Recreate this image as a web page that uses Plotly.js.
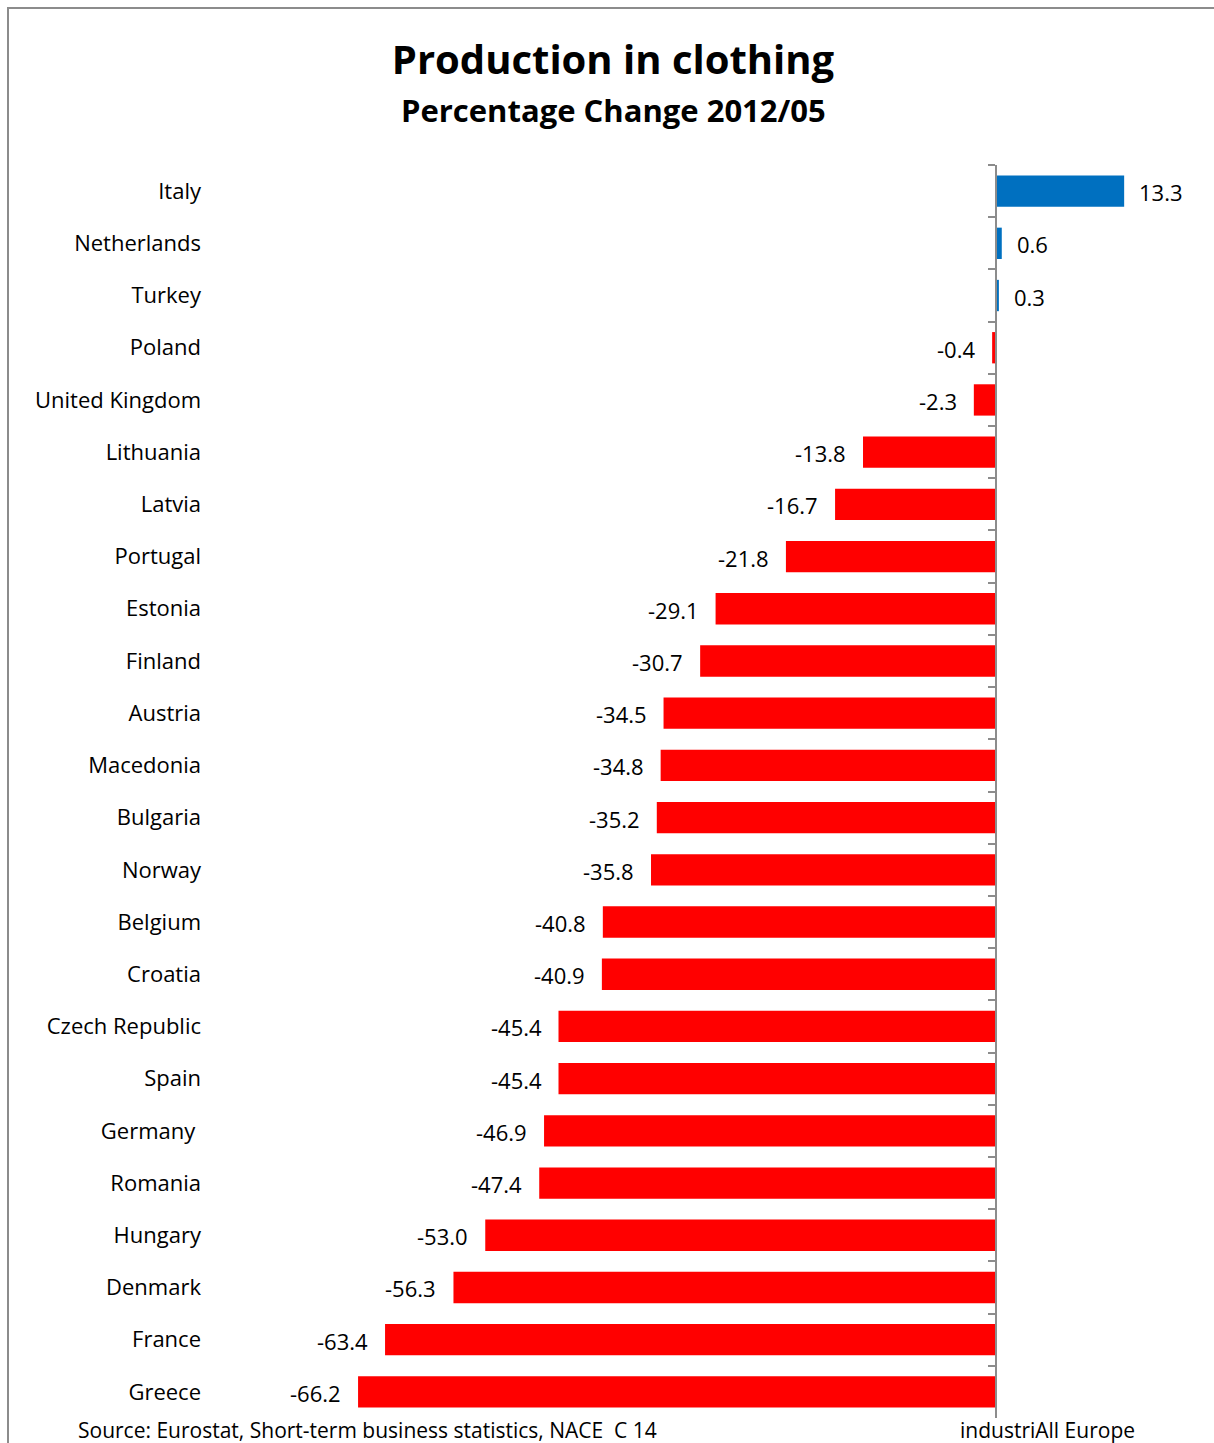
<!DOCTYPE html>
<html><head><meta charset="utf-8">
<script src="https://cdn.plot.ly/plotly-3.0.1.min.js"></script>
<style>
html,body{margin:0;padding:0;background:#fff;}
#wrap{position:relative;width:1214px;height:1443px;overflow:hidden;}
#chart{position:absolute;left:0;top:0;width:1214px;height:1443px;}
#frame{position:absolute;left:7px;top:7px;width:1220px;height:1450px;border-top:2px solid #8c8c8c;border-left:2px solid #8c8c8c;pointer-events:none;}
</style></head>
<body><div id="wrap"><div id="chart"></div><div id="frame"></div></div>
<script>
const countries = ["Italy","Netherlands","Turkey","Poland","United Kingdom","Lithuania","Latvia","Portugal","Estonia","Finland","Austria","Macedonia","Bulgaria","Norway","Belgium","Croatia","Czech Republic","Spain","Germany ","Romania","Hungary","Denmark","France","Greece"];
const changes = [13.3,0.6,0.3,-0.4,-2.3,-13.8,-16.7,-21.8,-29.1,-30.7,-34.5,-34.8,-35.2,-35.8,-40.8,-40.9,-45.4,-45.4,-46.9,-47.4,-53.0,-56.3,-63.4,-66.2];
const titleText = "Production in clothing";
const subtitleText = "Percentage Change 2012/05";
const sourceText = "Source: Eurostat, Short-term business statistics, NACE  C 14";
const creditText = "industriAll Europe";

const FONT = "'Open Sans', 'Noto Sans', sans-serif";
const W = 1214, H = 1443, ML = 206, MR = 14, MT = 165, MB = 25;
const PW = W - ML - MR, PH = H - MT - MB;
const xRange = [-81.98, 21.17];
const zeroFrac = (0 - xRange[0]) / (xRange[1] - xRange[0]);

const barColors = changes.map(v => v >= 0 ? "#0070C0" : "#FF0000");

const traces = [{
  type: "bar", orientation: "h",
  x: changes, y: countries,
  marker: {color: barColors, line: {width: 0}},
  hoverinfo: "x+y",
  xaxis: "x", yaxis: "y"
}];

const valueAnn = changes.map((v, i) => ({
  x: v, y: countries[i], xref: "x", yref: "y",
  text: v.toFixed(1), showarrow: false,
  xanchor: v >= 0 ? "left" : "right",
  xshift: v >= 0 ? 13 : -15, yshift: -1,
  font: {family: FONT, size: 22, color: "#000"}
}));

const layout = {
  width: W, height: H,
  margin: {l: ML, r: MR, t: MT, b: MB, pad: 0},
  paper_bgcolor: "rgba(0,0,0,0)", plot_bgcolor: "rgba(0,0,0,0)",
  font: {family: FONT, color: "#000"},
  showlegend: false,
  bargap: 0.4,
  title: {
    text: "<b>" + titleText + "</b>",
    font: {family: FONT, size: 40, color: "#000"},
    x: 613 / W, xanchor: "center", xref: "container",
    y: 1 - 60 / H, yanchor: "middle", yref: "container"
  },
  xaxis: {
    range: xRange, showgrid: false, zeroline: false, showline: false,
    showticklabels: false, ticks: "", fixedrange: true
  },
  yaxis: {
    type: "category", categoryorder: "array", categoryarray: countries,
    range: [countries.length - 0.5, -0.5],
    showgrid: false, zeroline: false, showline: false, ticks: "",
    tickfont: {family: FONT, size: 22, color: "#000"},
    ticklabelstandoff: 4
  },
  yaxis2: {
    type: "category", categoryorder: "array", categoryarray: countries,
    range: [countries.length - 0.5, -0.5],
    overlaying: "y", anchor: "free", position: zeroFrac, side: "left",
    showline: true, linecolor: "#8c8c8c", linewidth: 2,
    ticks: "outside", ticklen: 7, tickwidth: 2, tickcolor: "#8c8c8c",
    tickson: "boundaries", showticklabels: false, showgrid: false, zeroline: false
  },
  annotations: valueAnn.concat([
    {xref: "paper", yref: "paper", x: (613 - ML) / PW, y: 1 + (MT - 110) / PH,
     xanchor: "center", yanchor: "middle", showarrow: false, text: "<b>" + subtitleText + "</b>",
     font: {family: FONT, size: 31, color: "#000"}},
    {xref: "paper", yref: "paper", x: (76 - ML) / PW, y: -(1430 - (H - MB)) / PH,
     xanchor: "left", yanchor: "middle", showarrow: false, text: sourceText,
     font: {family: FONT, size: 21, color: "#000"}},
    {xref: "paper", yref: "paper", x: (958 - ML) / PW, y: -(1430 - (H - MB)) / PH,
     xanchor: "left", yanchor: "middle", showarrow: false, text: creditText,
     font: {family: FONT, size: 21, color: "#000"}}
  ])
};

traces.push({type: "scatter", mode: "markers", x: changes.map(() => 0), y: countries,
  marker: {opacity: 0, size: 1}, hoverinfo: "skip", xaxis: "x", yaxis: "y2", showlegend: false});

Plotly.newPlot("chart", traces, layout, {displayModeBar: false, staticPlot: true});
</script></body></html>
